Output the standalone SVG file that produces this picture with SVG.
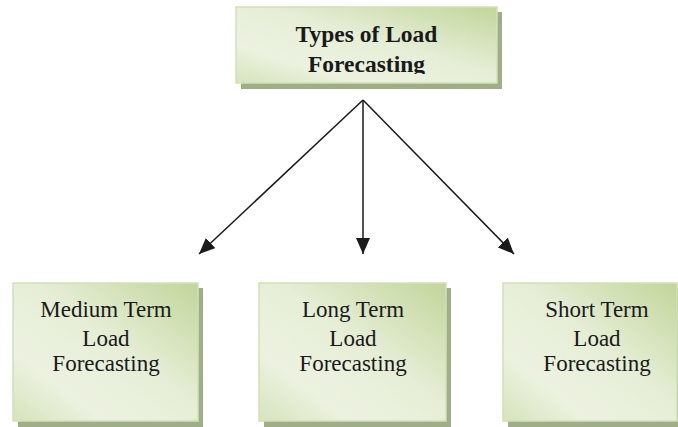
<svg xmlns="http://www.w3.org/2000/svg" width="678" height="427" viewBox="0 0 678 427">
<defs>
<linearGradient id="g" x1="1" y1="0" x2="0" y2="1">
<stop offset="0" stop-color="#c2d59a"/>
<stop offset="0.45" stop-color="#e6eed7"/>
<stop offset="0.75" stop-color="#ecf2e0"/>
<stop offset="1" stop-color="#d6e3bb"/>
</linearGradient>
<marker id="ah" viewBox="0 0 16 14" refX="16" refY="7" markerWidth="16" markerHeight="14" markerUnits="userSpaceOnUse" orient="auto">
<path d="M0,0 L16,7 L0,14 Z" fill="#1a1a1a"/>
</marker>
<clipPath id="clipTop"><rect x="236" y="7" width="261" height="67"/></clipPath>
</defs>
<style>
.shadow{fill:#9fae89}
.box{fill:url(#g);stroke:#d3e1b6;stroke-width:1.5}
.t{font-family:"Liberation Serif","Times New Roman",serif;font-size:23px;fill:#1a1a1a;text-anchor:middle}
.tb{font-weight:bold;font-size:23.5px}
.c{stroke:#1a1a1a;stroke-width:1.5;fill:none;marker-end:url(#ah)}
</style>
<rect width="678" height="427" fill="#ffffff"/>
<g id="top">
<rect class="shadow" x="241" y="12" width="261" height="77"/>
<rect class="box" x="236" y="7" width="261" height="76"/>
<g clip-path="url(#clipTop)">
<text class="t tb" x="366.5" y="42">Types of Load</text>
<text class="t tb" x="366.5" y="72">Forecasting</text>
</g>
</g>
<g id="medium">
<rect class="shadow" x="18" y="288" width="185" height="139"/>
<rect class="box" x="13" y="283" width="185" height="138"/>
<text class="t" x="106" y="317">Medium Term</text>
<text class="t" x="106" y="346">Load</text>
<text class="t" x="106" y="371">Forecasting</text>
</g>
<g id="long">
<rect class="shadow" x="264" y="288" width="187" height="139"/>
<rect class="box" x="259" y="283" width="187" height="138"/>
<text class="t" x="353" y="317">Long Term</text>
<text class="t" x="353" y="346">Load</text>
<text class="t" x="353" y="371">Forecasting</text>
</g>
<g id="short">
<rect class="shadow" x="508" y="288" width="175" height="139"/>
<rect class="box" x="503" y="283" width="174" height="138"/>
<text class="t" x="597" y="317">Short Term</text>
<text class="t" x="597" y="346">Load</text>
<text class="t" x="597" y="371">Forecasting</text>
</g>
<g id="connectors">
<line class="c" x1="363" y1="100" x2="199" y2="254"/>
<line class="c" x1="363" y1="100" x2="363" y2="254"/>
<line class="c" x1="363" y1="100" x2="514" y2="254"/>
</g>
</svg>
